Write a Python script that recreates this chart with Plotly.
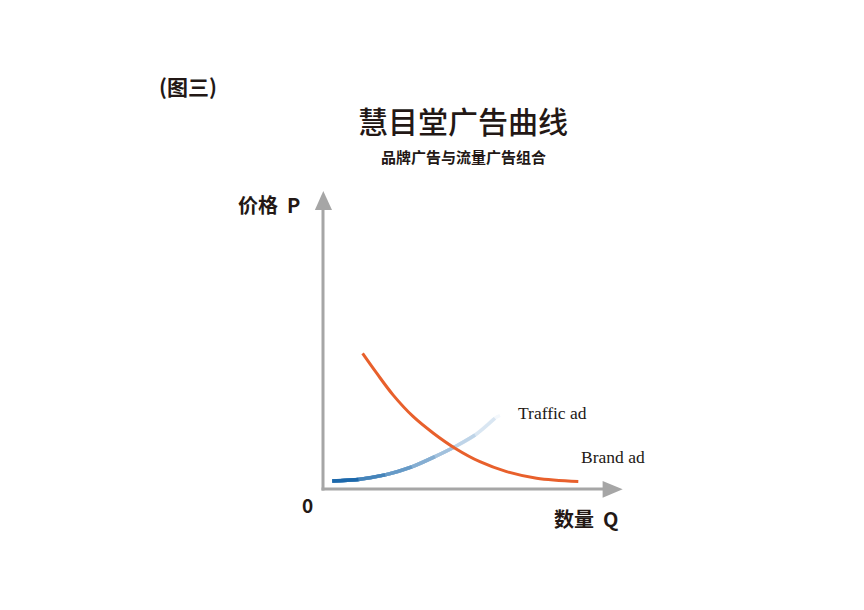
import plotly.graph_objects as go

# ------ 数据 (单位: 数量 Q / 价格 P) ------ #
brand_q = [1.32, 1.79, 2.34, 3.01, 3.68, 4.40, 5.23, 6.12, 7.12, 8.51]
brand_p = [4.52, 3.86, 3.13, 2.41, 1.86, 1.36, 0.91, 0.58, 0.36, 0.25]

traffic_q = [0.31, 1.18, 2.07, 2.96, 3.73, 4.40, 5.07, 5.73, 5.90]
traffic_p = [0.27, 0.32, 0.47, 0.74, 1.08, 1.41, 1.80, 2.36, 2.45]

title_text = "慧目堂广告曲线"
subtitle_text = "品牌广告与流量广告组合"
fig_tag = "(图三)"

AXIS_GRAY = "#a6a6a6"
TEXT = "#231815"
CJK = "Noto Sans CJK SC"
SERIF = "Liberation Serif"


def mix(c1, c2, t):
    a = [int(c1[i:i + 2], 16) for i in (1, 3, 5)]
    b = [int(c2[i:i + 2], 16) for i in (1, 3, 5)]
    return "rgb(%d,%d,%d)" % tuple(round(a[i] + (b[i] - a[i]) * t) for i in range(3))


fig = go.Figure()

# ------ 流量广告: 由深蓝渐变到几乎透明 ------ #
n = len(traffic_q)
for k in range(n, 1, -1):
    t = (k - 2) / (n - 2)
    fig.add_trace(
        go.Scatter(
            x=traffic_q[:k],
            y=traffic_p[:k],
            mode="lines",
            line=dict(color=mix("#1c68ab", "#f4f8fc", t ** 0.85), width=3.5, shape="spline"),
            hoverinfo="skip",
            showlegend=False,
        )
    )

# ------ 品牌广告 ------ #
fig.add_trace(
    go.Scatter(
        x=brand_q,
        y=brand_p,
        mode="lines",
        line=dict(color="#e8602c", width=3, shape="spline"),
        hoverinfo="skip",
        showlegend=False,
    )
)

# ------ 坐标轴 (带箭头) ------ #
fig.add_shape(type="line", x0=0, y0=-0.05, x1=0, y1=9.35, line=dict(color=AXIS_GRAY, width=3))
fig.add_shape(type="line", x0=-0.05, y0=0, x1=9.4, y1=0, line=dict(color=AXIS_GRAY, width=3))
fig.add_shape(type="path", path="M -0.27,9.3 L 0.3,9.3 L 0.01,9.93 Z",
              fillcolor=AXIS_GRAY, line=dict(width=0))
fig.add_shape(type="path", path="M 9.32,0.27 L 9.32,-0.29 L 9.99,-0.01 Z",
              fillcolor=AXIS_GRAY, line=dict(width=0))


def note(text, x, y, size, font=CJK, xanchor="left", weight="bold", ref="x"):
    fig.add_annotation(
        text=text, x=x, y=y,
        xref="paper" if ref == "paper" else "x",
        yref="paper" if ref == "paper" else "y",
        xanchor=xanchor, yanchor="middle", showarrow=False,
        font=dict(family=font, size=size, color=TEXT, weight=weight),
    )


# 标题部分放在绘图区外, 用 paper 坐标
note(fig_tag, -0.3775, 1.2025, 21, ref="paper")
note(title_text, 0.4725, 1.1083, 30, xanchor="center", weight=500, ref="paper")
note(subtitle_text, 0.4725, 1.0058, 15, xanchor="center", ref="paper")

note("价格  P", -0.7, 9.5, 20, xanchor="right")
note("0", -0.53, -0.53, 19, xanchor="center")
note("数量  Q", 9.9, -0.97, 20, xanchor="right")
note("Traffic ad", 6.43, 2.53, 17.5, font=SERIF, weight="normal")
note("Brand ad", 8.53, 1.07, 17.5, font=SERIF, weight="normal")

fig.update_xaxes(range=[-1, 11], visible=False)
fig.update_yaxes(range=[-1, 11], visible=False)
fig.update_layout(
    width=864,
    height=610,
    margin=dict(l=285, r=219, t=151, b=99),
    plot_bgcolor="white",
    paper_bgcolor="white",
)

fig.write_html("out.html")
